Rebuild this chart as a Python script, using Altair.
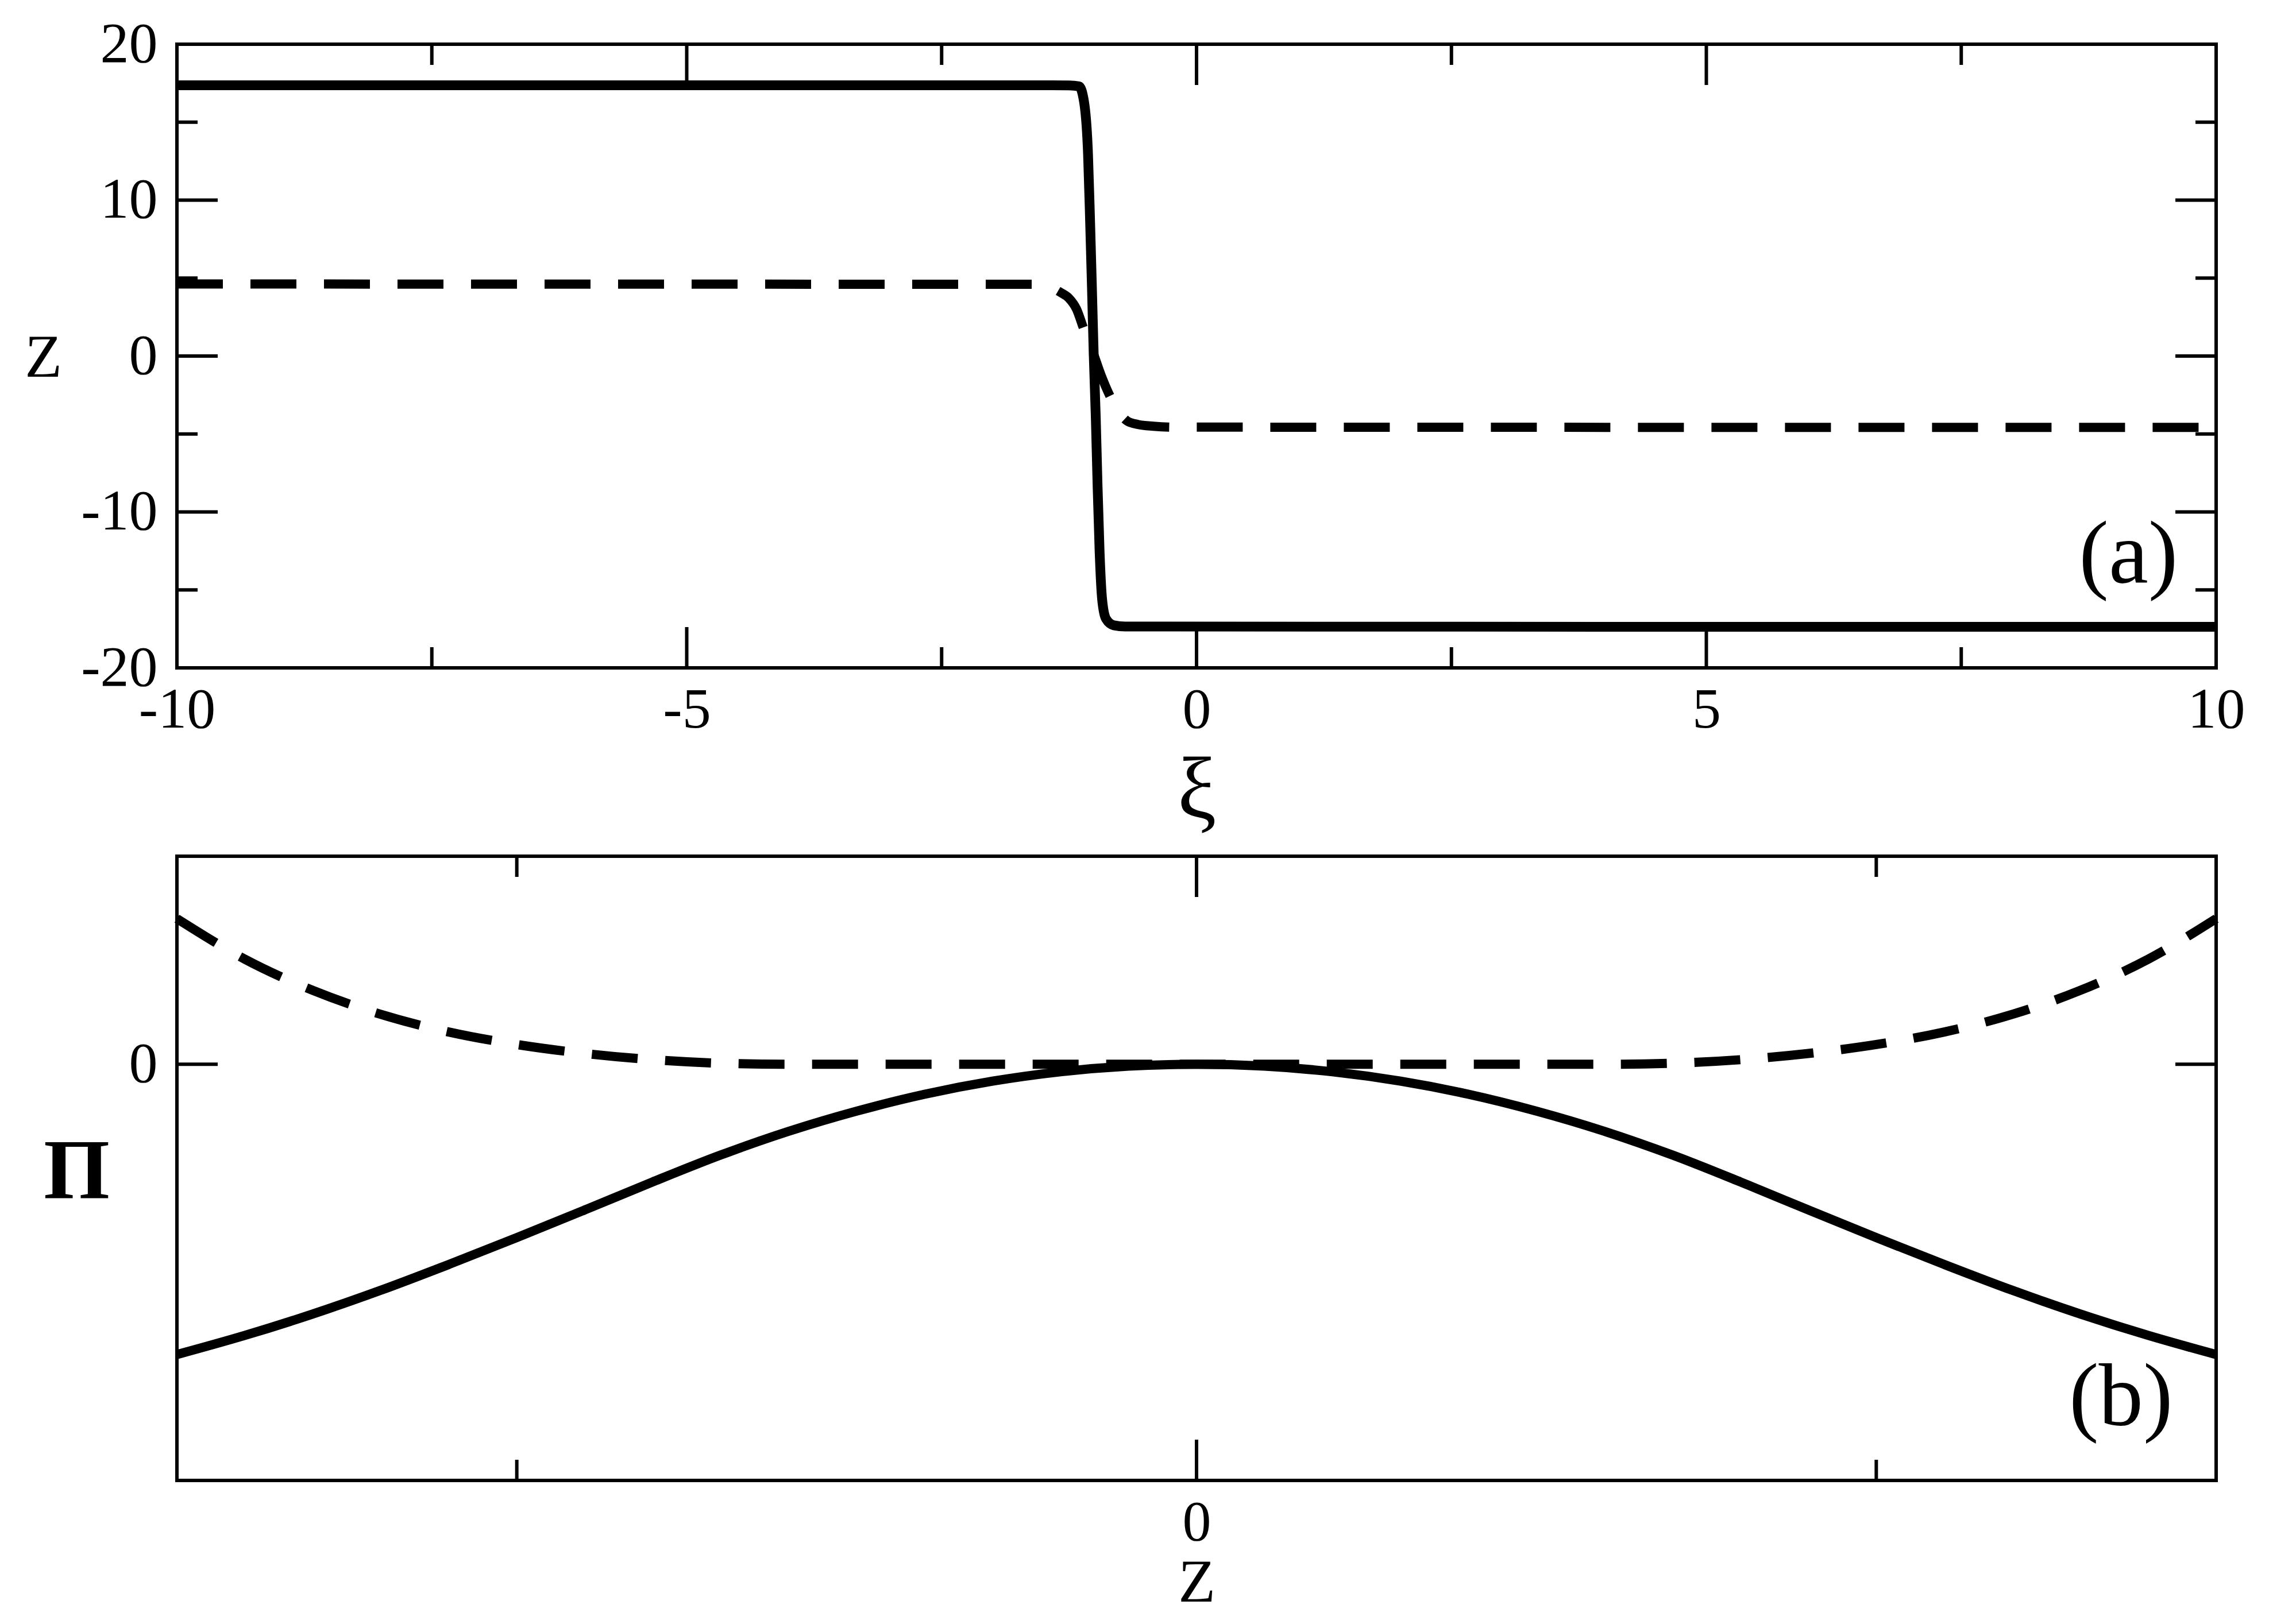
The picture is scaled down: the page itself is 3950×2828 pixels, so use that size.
import altair as alt
import pandas as pd

SERIF = "Liberation Serif"

# ---------------- panel (a): z vs xi ----------------
xi_solid = [-10.0, -1.5, -1.25, -1.152, -1.102, -1.064, -1.044, -1.026, -1.009, -0.988,
            -0.971, -0.951, -0.926, -0.888, -0.812, -0.7, 10.0]
z_solid = [17.37, 17.37, 17.36, 17.3, 16.25, 12.9, 8.65, 4.42, 0.2, -4.0,
           -8.25, -12.5, -15.6, -16.85, -17.27, -17.35, -17.37]

xi_dash = [-10.0, -1.6, -1.45, -1.333, -1.253, -1.177, -1.107, -1.06, -1.014, -0.938,
           -0.845, -0.76, -0.679, -0.573, -0.423, -0.234, 10.0]
z_dash = [4.62, 4.6, 4.45, 4.08, 3.72, 3.01, 1.75, 0.95, 0.2, -1.2,
          -2.62, -3.6, -4.17, -4.39, -4.5, -4.56, -4.58]

top_x_major = [-10, -5, 0, 5, 10]
top_x_minor = [-7.5, -2.5, 2.5, 7.5]
top_y_major = [-20, -10, 0, 10, 20]
top_y_minor = [-15, -5, 5, 15]

# ---------------- panel (b): Pi vs z ----------------
zb_solid = [-1.5, -1.4, -1.3, -1.2, -1.1, -1.0, -0.9, -0.8, -0.7, -0.6, -0.5, -0.4, -0.3,
            -0.2, -0.1, 0.0, 0.1, 0.2, 0.3, 0.4, 0.5, 0.6, 0.7, 0.8, 0.9, 1.0, 1.1, 1.2,
            1.3, 1.4, 1.5]
pi_solid = [-1.395, -1.303, -1.2, -1.086, -0.962, -0.833, -0.7, -0.565, -0.436, -0.322,
            -0.225, -0.144, -0.081, -0.036, -0.009, 0.0, -0.009, -0.036, -0.081, -0.144,
            -0.225, -0.322, -0.436, -0.565, -0.7, -0.833, -0.962, -1.086, -1.2, -1.303, -1.395]

zb_dash = [-1.5, -1.4, -1.3, -1.2, -1.1, -1.0, -0.9, -0.8, -0.7, -0.6, 0.0,
           0.6, 0.7, 0.8, 0.9, 1.0, 1.1, 1.2, 1.3, 1.4, 1.5]
pi_dash = [0.70, 0.505, 0.355, 0.24, 0.155, 0.095, 0.052, 0.022, 0.005, 0.0, 0.0,
           0.0, 0.005, 0.022, 0.052, 0.095, 0.155, 0.24, 0.355, 0.505, 0.70]

bot_x_major = [0]
bot_x_minor = [-1, 1]
bot_y_major = [0]
bot_y_minor = []

W, H = 3550, 1086
H2 = 1087
MAJ, MIN, TW = 71, 36, 6


def x_axis(values, title, title_size, title_y, weight="normal"):
    return alt.Axis(values=values, title=title, domain=False, ticks=False, tickSize=0, grid=False,
                    labelFont=SERIF, labelFontSize=100, labelColor="black", labelPadding=24,
                    labelFlush=False, labelOverlap=False,
                    labelExpr="replace(datum.label, '\u2212', '-')",
                    titleFont=SERIF, titleFontSize=title_size, titleFontWeight=weight,
                    titleColor="black", titleAngle=0, titleAlign="center",
                    titleBaseline="alphabetic", titleX=W / 2, titleY=title_y)


def y_axis(values, title, title_size, title_x, title_y, weight="normal"):
    return alt.Axis(values=values, title=title, domain=False, ticks=False, tickSize=0, grid=False,
                    labelFont=SERIF, labelFontSize=100, labelColor="black", labelPadding=34,
                    labelFlush=False, labelOverlap=False,
                    labelExpr="replace(datum.label, '\u2212', '-')",
                    titleFont=SERIF, titleFontSize=title_size, titleFontWeight=weight,
                    titleColor="black", titleAngle=0, titleAlign="center",
                    titleBaseline="alphabetic", titleX=title_x, titleY=title_y)


def tick_layers(xs, ys, xax, yax, xmaj, xmin, ymaj, ymin, h):
    layers = []
    for vals, L in [(xmaj, MAJ), (xmin, MIN)]:
        if not vals:
            continue
        base = alt.Chart(pd.DataFrame({"v": vals})).mark_rule(color="black", strokeWidth=TW)
        layers.append(base.encode(x=alt.X("v:Q", scale=xs, axis=xax),
                                  y=alt.value(h), y2=alt.value(h - L)))
        layers.append(base.encode(x=alt.X("v:Q", scale=xs, axis=xax),
                                  y=alt.value(0), y2=alt.value(L)))
    for vals, L in [(ymaj, MAJ), (ymin, MIN)]:
        if not vals:
            continue
        base = alt.Chart(pd.DataFrame({"v": vals})).mark_rule(color="black", strokeWidth=TW)
        layers.append(base.encode(y=alt.Y("v:Q", scale=ys, axis=yax),
                                  x=alt.value(0), x2=alt.value(L)))
        layers.append(base.encode(y=alt.Y("v:Q", scale=ys, axis=yax),
                                  x=alt.value(W), x2=alt.value(W - L)))
    return layers


# ---- top panel ----
xs_a = alt.Scale(domain=[-10, 10], nice=False, zero=False)
ys_a = alt.Scale(domain=[-20, 20], nice=False, zero=False)
ax_a_x = x_axis(top_x_major, "\u03be", 152, 260)
ax_a_y = y_axis(top_y_major, "Z", 106, -233, 578)

solid_a = alt.Chart(pd.DataFrame({"xi": xi_solid, "z": z_solid})).mark_line(
    color="black", strokeWidth=17, interpolate="monotone", strokeCap="butt"
).encode(
    x=alt.X("xi:Q", scale=xs_a, axis=ax_a_x),
    y=alt.Y("z:Q", scale=ys_a, axis=ax_a_y),
)
dash_a = alt.Chart(pd.DataFrame({"xi": xi_dash, "z": z_dash})).mark_line(
    color="black", strokeWidth=16, interpolate="monotone", strokeCap="butt", strokeDash=[80, 48]
).encode(
    x=alt.X("xi:Q", scale=xs_a, axis=ax_a_x),
    y=alt.Y("z:Q", scale=ys_a, axis=ax_a_y),
)
label_a = alt.Chart(pd.DataFrame({"x": [9.14], "y": [-14.5], "t": ["(a)"]})).mark_text(
    font=SERIF, fontSize=155, align="center", baseline="alphabetic", color="black"
).encode(
    x=alt.X("x:Q", scale=xs_a, axis=ax_a_x),
    y=alt.Y("y:Q", scale=ys_a, axis=ax_a_y),
    text="t:N",
)
top = alt.layer(
    solid_a, dash_a, label_a,
    *tick_layers(xs_a, ys_a, ax_a_x, ax_a_y, top_x_major, top_x_minor, top_y_major, top_y_minor, H)
).properties(width=W, height=H)

# ---- bottom panel ----
xs_b = alt.Scale(domain=[-1.5, 1.5], nice=False, zero=False)
ys_b = alt.Scale(domain=[-2, 1], nice=False, zero=False)
ax_b_x = x_axis(bot_x_major, "Z", 106, 210)
ax_b_y = y_axis(bot_y_major, "\u03a0", 148, -175, 594, weight="bold")

solid_b = alt.Chart(pd.DataFrame({"zz": zb_solid, "p": pi_solid})).mark_line(
    color="black", strokeWidth=16, interpolate="monotone", strokeCap="butt"
).encode(
    x=alt.X("zz:Q", scale=xs_b, axis=ax_b_x),
    y=alt.Y("p:Q", scale=ys_b, axis=ax_b_y),
)
dash_b = alt.Chart(pd.DataFrame({"zz": zb_dash, "p": pi_dash})).mark_line(
    color="black", strokeWidth=16, interpolate="monotone", strokeCap="butt", strokeDash=[80, 48]
).encode(
    x=alt.X("zz:Q", scale=xs_b, axis=ax_b_x),
    y=alt.Y("p:Q", scale=ys_b, axis=ax_b_y),
)
label_b = alt.Chart(pd.DataFrame({"x": [1.36], "y": [-1.733], "t": ["(b)"]})).mark_text(
    font=SERIF, fontSize=155, align="center", baseline="alphabetic", color="black"
).encode(
    x=alt.X("x:Q", scale=xs_b, axis=ax_b_x),
    y=alt.Y("y:Q", scale=ys_b, axis=ax_b_y),
    text="t:N",
)
bottom = alt.layer(
    solid_b, dash_b, label_b,
    *tick_layers(xs_b, ys_b, ax_b_x, ax_b_y, bot_x_major, bot_x_minor, bot_y_major, bot_y_minor, H2)
).properties(width=W, height=H2)

chart = alt.vconcat(top, bottom, spacing=29).properties(
    padding={"left": 31, "top": 16, "right": 20, "bottom": 20},
    background="white",
).configure_view(stroke="black", strokeWidth=6)

chart.save("out.html", embed_options={"renderer": "svg", "actions": False})
